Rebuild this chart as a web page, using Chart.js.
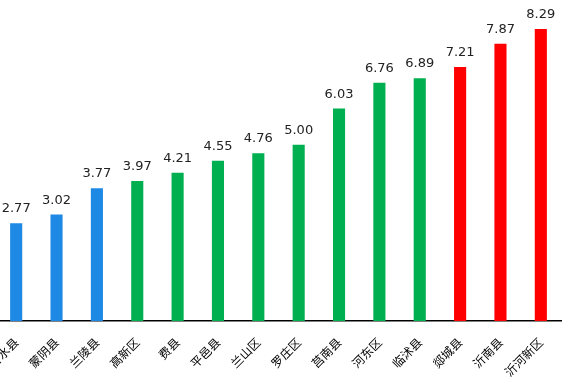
<!DOCTYPE html>
<html>
<head>
<meta charset="utf-8">
<script src="https://cdn.jsdelivr.net/npm/chart.js@4"></script>
<style>
  html, body { margin: 0; padding: 0; background: #fff; overflow: hidden; }
  #wrap { position: absolute; left: -40px; top: 0; width: 608px; height: 391px; }
</style>
</head>
<body>
<div id="wrap"><canvas id="chart"></canvas></div>
<script>
// Data
const categories = ['沂水县', '蒙阴县', '兰陵县', '高新区', '费县', '平邑县', '兰山区', '罗庄区', '莒南县', '河东区', '临沭县', '郯城县', '沂南县', '沂河新区'];
const values = [2.77, 3.02, 3.77, 3.97, 4.21, 4.55, 4.76, 5.00, 6.03, 6.76, 6.89, 7.21, 7.87, 8.29];
const groups = ['blue', 'blue', 'blue', 'green', 'green', 'green', 'green', 'green', 'green', 'green', 'green', 'red', 'red', 'red'];

const groupColors = { blue: '#1e88e5', green: '#00b050', red: '#ff0000' };

// Draw value labels above each bar
const valueLabels = {
  id: 'valueLabels',
  afterDatasetsDraw(chart) {
    const ctx = chart.ctx;
    const meta = chart.getDatasetMeta(0);
    ctx.save();
    ctx.font = '13px "DejaVu Sans", sans-serif';
    ctx.fillStyle = '#222';
    ctx.textAlign = 'center';
    ctx.textBaseline = 'alphabetic';
    meta.data.forEach((bar, i) => {
      ctx.fillText(values[i].toFixed(2), bar.x, bar.y - 11);
    });
    ctx.restore();
  }
};

new Chart(document.getElementById('chart'), {
  type: 'bar',
  data: {
    labels: categories,
    datasets: [{
      data: values,
      backgroundColor: groups.map(g => groupColors[g]),
      categoryPercentage: 1,
      barPercentage: 0.3
    }]
  },
  options: {
    responsive: true,
    maintainAspectRatio: false,
    animation: false,
    layout: { padding: { top: 4, right: 7, bottom: 6, left: 0 } },
    plugins: {
      legend: { display: false },
      tooltip: { enabled: false }
    },
    scales: {
      x: {
        grid: { display: false },
        border: { display: true, color: '#000', width: 1.5 },
        ticks: {
          color: '#000',
          font: { size: 12, family: '"Noto Sans CJK SC", sans-serif' },
          minRotation: 45,
          maxRotation: 45,
          padding: 6
        }
      },
      y: {
        min: 0,
        max: 9,
        grid: { display: false },
        border: { display: false },
        ticks: { display: false },
        afterFit: s => { s.width = 36; }
      }
    }
  },
  plugins: [valueLabels]
});
</script>
</body>
</html>
